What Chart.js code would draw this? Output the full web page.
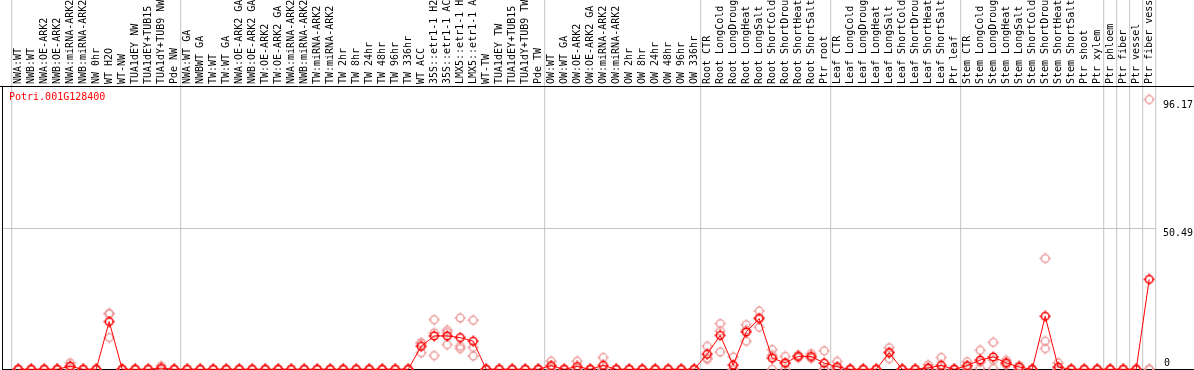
<!DOCTYPE html>
<html>
<head>
<meta charset="utf-8">
<script src="https://cdn.jsdelivr.net/npm/chart.js@4/dist/chart.umd.min.js"></script>
<style>
html,body{margin:0;padding:0;background:#fff;}
#wrap{width:1194px;height:370px;position:relative;}
</style>
</head>
<body>
<div id="wrap"><canvas id="c" width="1194" height="370"></canvas></div>
<script>
const geneName = "Potri.001G128400";
const categories = [
"NWA:WT","NWB:WT","NWA:OE-ARK2","NWB:OE-ARK2","NWA:miRNA-ARK2","NWB:miRNA-ARK2","NW 0hr","WT H2O","WT-NW","TUA1dEY NW",
"TUA1dEY+TUB15 NW","TUA1dY+TUB9 NW","Pde NW","NWA:WT GA","NWBWT GA","TW:WT","TW:WT GA","NWA:OE-ARK2 GA","NWB:OE-ARK2 GA","TW:OE-ARK2",
"TW:OE-ARK2 GA","NWA:miRNA-ARK2 GA","NWB:miRNA-ARK2 GA","TW:miRNA-ARK2","TW:miRNA-ARK2 GA","TW 2hr","TW 8hr","TW 24hr","TW 48hr","TW 96hr",
"TW 336hr","WT ACC","35S::etr1-1 H2O","35S::etr1-1 ACC","LMX5::etr1-1 H2O","LMX5::etr1-1 ACC","WT-TW","TUA1dEY TW","TUA1dEY+TUB15 TW","TUA1dY+TUB9 TW",
"Pde TW","OW:WT","OW:WT GA","OW:OE-ARK2","OW:OE-ARK2 GA","OW:miRNA-ARK2","OW:miRNA-ARK2 GA","OW 2hr","OW 8hr","OW 24hr",
"OW 48hr","OW 96hr","OW 336hr","Root CTR","Root LongCold","Root LongDrought","Root LongHeat","Root LongSalt","Root ShortCold","Root ShortDrought",
"Root ShortHeat","Root ShortSalt","Ptr root","Leaf CTR","Leaf LongCold","Leaf LongDrought","Leaf LongHeat","Leaf LongSalt","Leaf ShortCold","Leaf ShortDrought",
"Leaf ShortHeat","Leaf ShortSalt","Ptr leaf","Stem CTR","Stem LongCold","Stem LongDrought","Stem LongHeat","Stem LongSalt","Stem ShortCold","Stem ShortDrought",
"Stem ShortHeat","Stem ShortSalt","Ptr shoot","Ptr xylem","Ptr phloem","Ptr fiber","Ptr vessel","Ptr fiber vessel"
];
const meanValues = [
0,0,0,0,1.1,0,0,17.0,0,0,
0,0.4,0,0,0,0,0,0,0,0,
0,0,0,0,0,0,0,0,0,0,
0,8.2,11.9,11.9,11.3,10.0,0,0,0,0,
0,1.3,0,1.0,0,1.4,0,0,0,0,
0,0,0,5.4,12.1,1.5,13.3,18.1,4.0,2.3,
4.6,4.6,2.2,0.9,0,0,0,5.9,0,0,
0.5,1.4,0,1.3,3.3,4.4,2.3,0.8,0,18.9,
0.8,0,0,0,0,0,0,32.06
];
const rep1 = [
0,0,0,0,2.3,0,0,19.9,0,0,
0,1.2,0,0,0,0,0,0,0,0,
0,0,0,0,0,0,0,0,0,0,
0,9.5,17.7,13.9,18.3,17.5,0,0,0,0,
0,2.9,0,2.9,0,4.2,0,0,0,0,
0,0,0,8.2,16.3,4.4,15.9,20.8,7.0,4.6,
5.0,5.6,6.6,2.8,0,0,0,7.7,0,0,
1.6,4.2,0,2.7,6.8,9.6,3.2,1.3,0,39.5,
2.3,0,0,0,0,0,0,96.17
];
const rep2 = [
0,0,0,0,1.0,0,0,19.8,0,0,
0,0,0,0,0,0,0,0,0,0,
0,0,0,0,0,0,0,0,0,0,
0,9.2,13.0,13.1,8.2,7.8,0,0,0,0,
0,1.0,0,0,0,0,0,0,0,0,
0,0,0,4.0,13.6,0,14.0,18.4,5.0,2.0,
4.6,4.2,0,0,0,0,0,6.2,0,0,
0,0,0,1.0,2.6,3.3,2.1,1.0,0,10.0,
0,0,0,0,0,0,0,0
];
const rep3 = [
0,0,0,0,0,0,0,11.3,0,0,
0,0,0,0,0,0,0,0,0,0,
0,0,0,0,0,0,0,0,0,0,
0,5.9,4.9,8.8,7.4,4.7,0,0,0,0,
0,0,0,0,0,0,0,0,0,0,
0,0,0,3.6,6.2,0,10.0,15.0,0,0,
4.2,4.0,0,0,0,0,0,3.8,0,0,
0,0,0,0.3,0.3,0.3,1.6,0,0,7.4,
0,0,0,0,0,0,0,0
];
const yTickValues = [0, 50.49, 96.17];
const yMax = 100.98;
const gridValues = [50.49];
// index of the last category in each group (separators drawn after these)
const groupEnds = [12, 40, 52, 62, 72, 83, 84, 85, 86, 87];

const FONT = '10px "DejaVu Sans Mono", "Liberation Mono", monospace';

function makeMarker(color, lw) {
  const c = document.createElement('canvas');
  c.width = 12; c.height = 12;
  const g = c.getContext('2d');
  g.strokeStyle = color; g.lineWidth = lw;
  g.beginPath(); g.arc(6, 6, 3.8, 0, Math.PI * 2); g.stroke();
  g.beginPath();
  g.moveTo(6, 0.5); g.lineTo(6, 2.2);
  g.moveTo(6, 9.8); g.lineTo(6, 11.5);
  g.moveTo(0.5, 6); g.lineTo(2.2, 6);
  g.moveTo(9.8, 6); g.lineTo(11.5, 6);
  g.stroke();
  return c;
}
const meanMarker = makeMarker('#ff0000', 1.5);
const repMarker = makeMarker('#ec9898', 1.3);

const decor = {
  id: 'decor',
  beforeDatasetsDraw(chart) {
    const ctx = chart.ctx;
    const xs = chart.scales.x, ys = chart.scales.y;
    const ca = chart.chartArea;
    const half = (xs.getPixelForValue(1) - xs.getPixelForValue(0)) / 2;
    ctx.save();
    // gray separators
    ctx.strokeStyle = '#c4c4c4';
    ctx.lineWidth = 1;
    const bounds = [xs.getPixelForValue(0) - half].concat(groupEnds.map(i => xs.getPixelForValue(i) + half));
    bounds.forEach(bx => {
      ctx.beginPath(); ctx.moveTo(bx, 0); ctx.lineTo(bx, 370); ctx.stroke();
    });
    // horizontal grid
    gridValues.forEach(v => {
      const y = Math.round(ys.getPixelForValue(v)) + 0.5;
      ctx.beginPath(); ctx.moveTo(2, y); ctx.lineTo(bounds[bounds.length - 1], y); ctx.stroke();
    });
    // black frame
    ctx.strokeStyle = '#000';
    ctx.beginPath();
    ctx.moveTo(0, Math.round(ca.top) + 0.5); ctx.lineTo(1194, Math.round(ca.top) + 0.5);
    ctx.moveTo(2.5, ca.top); ctx.lineTo(2.5, 370);
    ctx.moveTo(2, 369.5); ctx.lineTo(1194, 369.5);
    ctx.stroke();
    // category labels (rotated)
    ctx.fillStyle = '#000';
    ctx.font = FONT;
    ctx.textAlign = 'left';
    ctx.textBaseline = 'middle';
    categories.forEach((lab, i) => {
      const x = xs.getPixelForValue(i);
      ctx.save();
      ctx.translate(x + 0.5, ca.top - 2);
      ctx.rotate(-Math.PI / 2);
      ctx.fillText(lab, 0, 0);
      ctx.restore();
    });
    // y tick labels on the right
    ctx.textAlign = 'left';
    yTickValues.forEach(v => {
      const y = ys.getPixelForValue(v);
      if (v === 0) { ctx.textBaseline = 'bottom'; ctx.fillText('0', 1164, 368); }
      else { ctx.textBaseline = 'top'; ctx.fillText(String(v), 1163, y + 1); }
    });
    // gene name
    ctx.fillStyle = '#ff0000';
    ctx.textBaseline = 'middle';
    ctx.fillText(geneName, 9, 97);
    ctx.restore();
  }
};

const repDatasets = [rep1, rep2, rep3].map((arr, k) => ({
  label: 'rep' + (k + 1),
  data: arr,
  showLine: false,
  pointStyle: repMarker,
  pointRadius: 5,
  borderColor: '#ec9898',
  backgroundColor: 'transparent',
  clip: false,
  order: 2
}));

new Chart(document.getElementById('c'), {
  type: 'line',
  data: {
    labels: categories,
    datasets: [
      ...repDatasets,
      {
        label: 'mean',
        data: meanValues,
        borderColor: '#ff0000',
        borderWidth: 1,
        backgroundColor: 'transparent',
        pointStyle: meanMarker,
        pointRadius: 5,
        tension: 0,
        clip: false,
        order: 1
      }
    ]
  },
  options: {
    responsive: false,
    animation: false,
    events: [],
    layout: { autoPadding: false, padding: { left: 11.7, right: 38.3, top: 86, bottom: 0.7 } },
    plugins: { legend: { display: false }, tooltip: { enabled: false } },
    scales: {
      x: { type: 'category', offset: true, display: false },
      y: { min: 0, max: yMax, display: false }
    }
  },
  plugins: [decor]
});
</script>
</body>
</html>
